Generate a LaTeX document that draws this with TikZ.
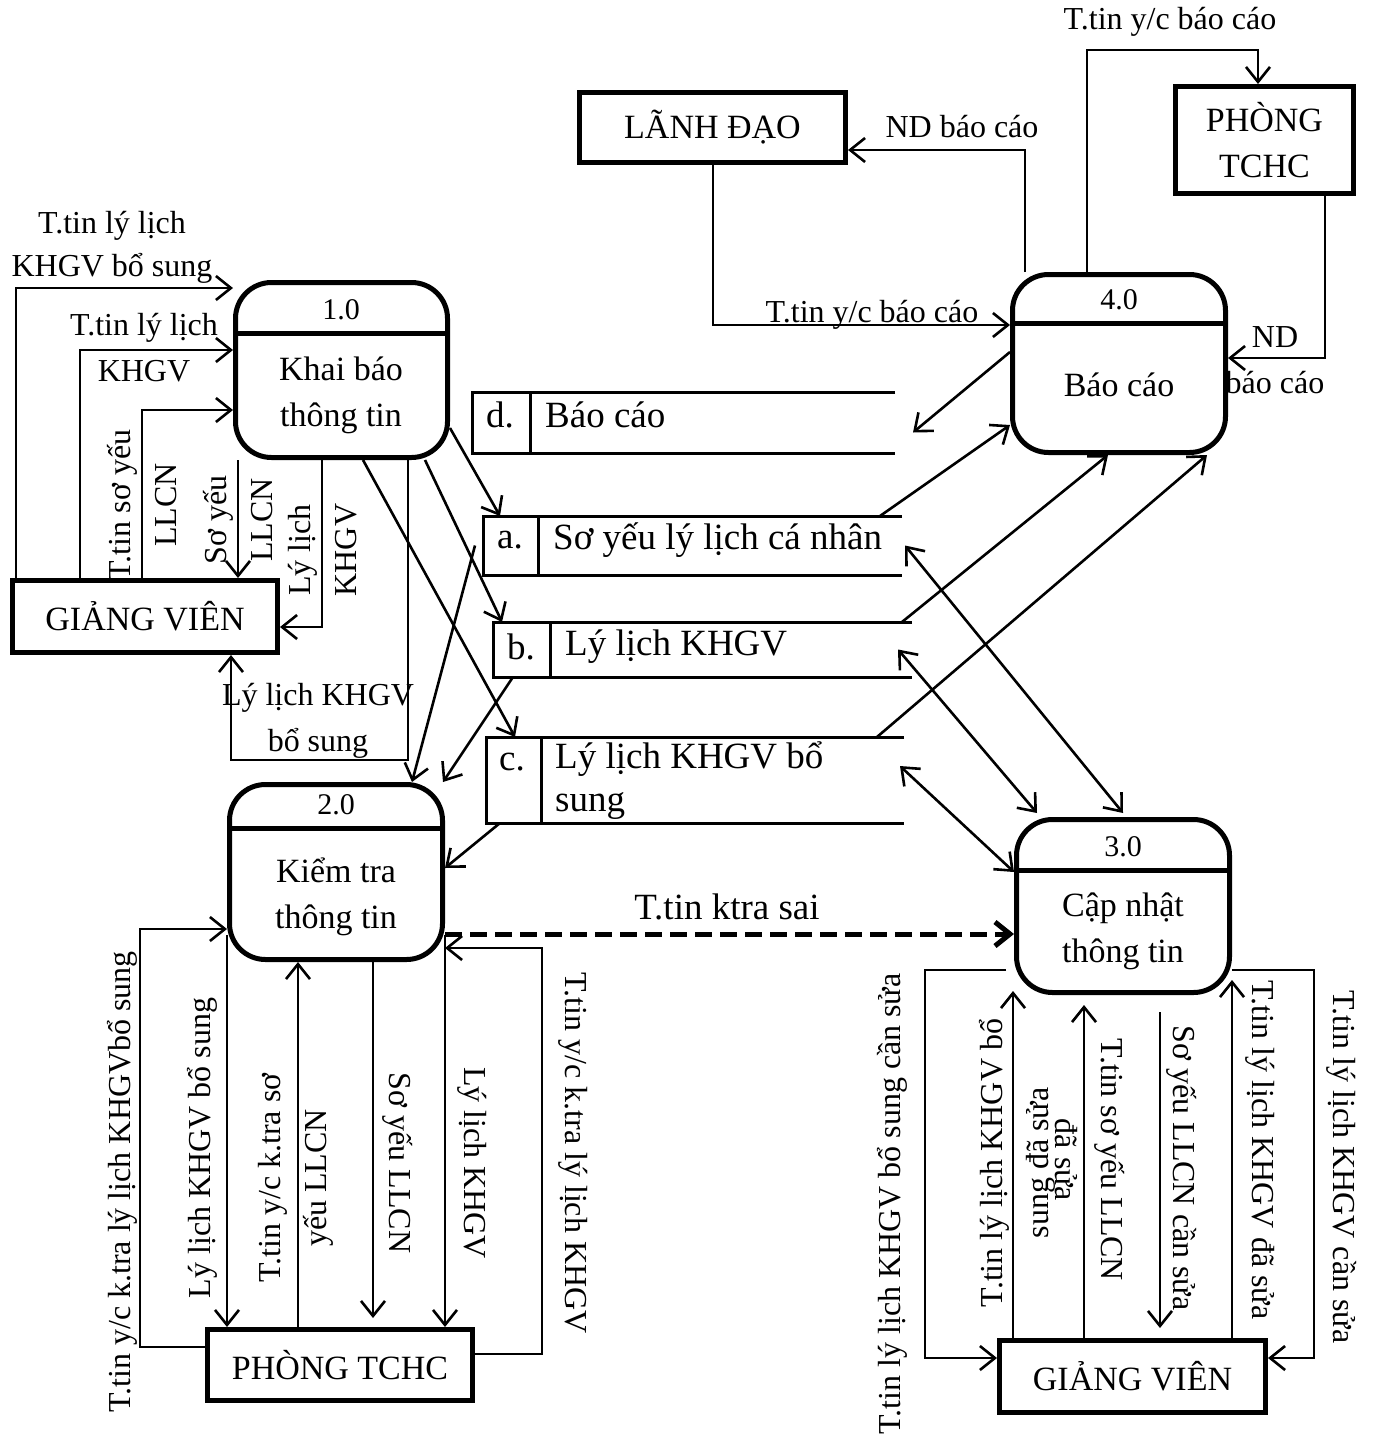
\documentclass[tikz,border=0pt]{standalone}
\usepackage{fontspec}
\setmainfont{Liberation Serif}
\usetikzlibrary{arrows.meta,calc}
\begin{document}
\begin{tikzpicture}[x=1pt,y=-1pt,
  tip/.tip={Straight Barb[length=15pt,width=24pt]},
  flow/.style={line width=2.6pt,-tip},
  biflow/.style={line width=2.6pt,tip-tip},
  proc/.style={draw,line width=5pt,rounded corners=36pt,inner sep=0pt},
  entity/.style={draw,line width=5pt,inner sep=0pt,font=\fontsize{34}{46}\selectfont,align=center},
  ptext/.style={font=\fontsize{34}{46}\selectfont,align=center,inner sep=0pt},
  pnum/.style={font=\fontsize{30}{36}\selectfont,inner sep=0pt},
  lbl/.style={font=\fontsize{32}{46}\selectfont,align=center,inner sep=0pt},
  stxt/.style={font=\fontsize{37}{43}\selectfont,inner sep=0pt,align=left},
  storebox/.style={inner sep=0pt,outer sep=0pt},
  storeline/.style={line width=3pt},
]
\fill[white] (0,0) rectangle (1373,1438);
\useasboundingbox (0,0) rectangle (1373,1438);

% ---------- processes ----------
\node[proc,minimum width=212pt,minimum height=175pt] (p1) at (341.5,370) {};
\draw[line width=5pt] (p1.west |- 0,333) -- (p1.east |- 0,333);
\node[pnum] at (341,310) {1.0};
\node[ptext] at (341,395) {Khai báo\\thông tin};

\node[proc,minimum width=213pt,minimum height=175pt] (p2) at (336,872) {};
\draw[line width=5pt] (p2.west |- 0,828) -- (p2.east |- 0,828);
\node[pnum] at (336,805) {2.0};
\node[ptext] at (336,897) {Kiểm tra\\thông tin};

\node[proc,minimum width=213pt,minimum height=173pt] (p3) at (1123,906) {};
\draw[line width=5pt] (p3.west |- 0,870) -- (p3.east |- 0,870);
\node[pnum] at (1123,847) {3.0};
\node[ptext] at (1123,931) {Cập nhật\\thông tin};

\node[proc,minimum width=213pt,minimum height=178pt] (p4) at (1119,363.5) {};
\draw[line width=5pt] (p4.west |- 0,323) -- (p4.east |- 0,323);
\node[pnum] at (1119,300) {4.0};
\node[ptext] at (1119,385) {Báo cáo};

% ---------- external entities ----------
\node[entity,minimum width=265pt,minimum height=72pt] (gv1) at (145,616.5) {GIẢNG VIÊN};
\node[entity,minimum width=265pt,minimum height=71pt] (tc1) at (340,1365) {PHÒNG TCHC};
\node[entity,minimum width=266pt,minimum height=70pt] (ld) at (712.5,127.5) {LÃNH ĐẠO};
\node[entity,minimum width=178pt,minimum height=107pt] (tc2) at (1264.5,140) {PHÒNG\\TCHC};
\node[entity,minimum width=266pt,minimum height=72pt] (gv2) at (1132.5,1376.5) {GIẢNG VIÊN};

% ---------- data stores ----------
\node[storebox,minimum width=423pt,minimum height=61pt] (sd) at (683.5,422.5) {};
\node[storebox,minimum width=419pt,minimum height=59pt] (sa) at (692.5,545.5) {};
\node[storebox,minimum width=419pt,minimum height=55pt] (sb) at (702.5,649.5) {};
\node[storebox,minimum width=418pt,minimum height=86pt] (sc) at (695,780) {};
\foreach \s/\d in {sd/530,sa/538,sb/550,sc/541}{
  \draw[storeline] (\s.north east) -- (\s.north west) -- (\s.south west) -- (\s.south east);
  \draw[storeline] (\s.north -| \d,0) -- (\s.south -| \d,0);
}
\node[stxt] at (500,415) {d.};
\node[stxt,anchor=west] at (545,415) {Báo cáo};
\node[stxt] at (510,540) {a.};
\node[stxt,anchor=west] at (553,540) {Sơ yếu lý lịch cá nhân};
\node[stxt] at (521,647) {b.};
\node[stxt,anchor=west] at (565,647) {Lý lịch KHGV};
\node[stxt] at (512,762) {c.};
\node[stxt,anchor=west] at (555,781) {Lý lịch KHGV bổ\\sung};

% ---------- flows around 1.0 ----------
\draw[flow] (gv1.north -| 16,0) |- (p1.west |- 0,288);
\node[lbl,font=\fontsize{32}{43}\selectfont] at (112,247) {T.tin lý lịch\\KHGV bổ sung};
\draw[flow] (gv1.north -| 80,0) |- (p1.west |- 0,350);
\node[lbl] at (144,348) {T.tin lý lịch\\KHGV};
\draw[flow] (gv1.north -| 142,0) |- (p1.west |- 0,410);
\node[lbl,rotate=90] at (142,505) {T.tin sơ yếu\\LLCN};
\draw[flow] (p1.south -| 238,0) -- (gv1.north -| 238,0);
\node[lbl,rotate=90] at (238,520) {Sơ yếu\\LLCN};
\draw[flow] (p1.south -| 322,0) |- (gv1.east |- 0,627);
\node[lbl,rotate=90] at (323,550) {Lý lịch\\KHGV};
\draw[flow] (p1.south -| 408,0) |- (231,760) -- (gv1.south -| 231,0);
\node[lbl] at (318,721) {Lý lịch KHGV\\bổ sung};

% 1.0 to stores
\draw[flow] (p1.east |- 0,428) -- (sa.north -| 500,0);
\draw[flow] (p1.south -| 425,0) -- (sb.north -| 502,0);
\draw[flow] (p1.south -| 363,0) -- (sc.north -| 515,0);

% stores to 2.0
\draw[flow] ($(sa.west)+(-8,0)$) -- (p2.north -| 412,0);
\draw[flow] (sb.south -| 513,0) -- (p2.north -| 443,0);
\draw[flow] (sc.south -| 500,0) -- (p2.east |- 0,868);

% ---------- flows around 2.0 ----------
\draw[flow] (tc1.west |- 0,1347) -| (140,929) -- (p2.west |- 0,929);
\node[lbl,rotate=90] at (122,1182) {T.tin y/c k.tra lý lịch KHGVbổ sung};
\draw[flow] (p2.west |- 0,935) -- (p2.west |- tc1.north);
\node[lbl,rotate=90] at (202,1148) {Lý lịch KHGV bổ sung};
\draw[flow] (tc1.north -| 298,0) -- (p2.south -| 298,0);
\node[lbl,rotate=90] at (296,1178) {T.tin y/c k.tra sơ\\yếu LLCN};
\draw[flow] (p2.south -| 373,0) -- ($(tc1.north -| 373,0)+(0,-9)$);
\node[lbl,rotate=-90] at (398,1163) {Sơ yếu LLCN};
\draw[flow] (p2.east |- 0,935) -- (p2.east |- tc1.north);
\node[lbl,rotate=-90] at (472,1163) {Lý lịch KHGV};
\draw[flow] (tc1.east |- 0,1354) -| (542,948) -- (p2.east |- 0,948);
\node[lbl,rotate=-90] at (573,1153) {T.tin y/c k.tra lý lịch KHGV};

% 2.0 to 3.0
\draw[line width=5pt,dash pattern=on 17pt off 8pt,-tip] (p2.east |- 0,934) -- (p3.west |- 0,934);
\node[lbl,font=\fontsize{37}{44}\selectfont] at (727,907) {T.tin ktra sai};

% ---------- flows around 3.0 ----------
\draw[flow] ($(p3.west |- 0,970)+(-8,0)$) -| (925,1358) -- (gv2.west |- 0,1358);
\node[lbl,rotate=90] at (892,1204) {T.tin lý lịch KHGV bổ sung cần sửa};
\draw[flow] (gv2.north -| 1013,0) -- ($(p3.south -| 1013,0)+(0,-4)$);
\node[lbl,rotate=90] at (1017,1163) {T.tin lý lịch KHGV bổ\\sung đã sửa};
\draw[flow] (gv2.north -| 1084,0) -- ($(p3.south -| 1084,0)+(0,10)$);
\node[lbl,rotate=-90] at (1090,1160) {T.tin sơ yếu LLCN\\đã sửa};
\draw[flow] ($(p3.south -| 1160,0)+(0,17)$) -- ($(gv2.north -| 1160,0)+(0,-10)$);
\node[lbl,rotate=-90] at (1182,1168) {Sơ yếu LLCN cần sửa};
\draw[flow] (p3.east |- gv2.north) -- (p3.east |- 0,980);
\node[lbl,rotate=-90] at (1260,1150) {T.tin lý lịch KHGV đã sửa};
\draw[flow] (p3.east |- 0,970) -| (1314,1358) -- (gv2.east |- 0,1358);
\node[lbl,rotate=-90] at (1342,1167) {T.tin lý lịch KHGV cần sửa};

% stores and 3.0 / 4.0
\draw[flow] (p4.west |- 0,352) -- ($(sd.east)+(18,10)$);
\draw[flow] (sa.north -| 880,0) -- (p4.west |- 0,425);
\draw[flow] (sb.north -| 902,0) -- (p4.south -| 1108,0);
\draw[flow] (sc.north -| 877,0) -- (p4.south -| 1207,0);
\draw[biflow] ($(sa.east)+(3,0)$) -- ($(p3.north)+(0,-4)$);
\draw[biflow] ($(sb.east)+(-14,0)$) -- ($(p3.north -| 1037,0)+(0,-4)$);
\draw[biflow] ($(sc.east)+(-4,-14)$) -- (p3.west |- 0,872);

% ---------- flows around 4.0 ----------
\draw[flow] (p4.north -| 1025,0) |- (ld.east |- 0,150);
\node[lbl] at (962,127) {ND báo cáo};
\draw[flow] (ld.south -| 713,0) |- (p4.west |- 0,325);
\node[lbl] at (872,315) {T.tin y/c báo cáo};
\draw[flow] (p4.north -| 1087,0) |- (1258,50) -- (tc2.north -| 1258,0);
\node[lbl] at (1170,22) {T.tin y/c báo cáo};
\draw[flow] (tc2.south -| 1325,0) |- (p4.east |- 0,358);
\node[lbl] at (1275,360) {ND\\báo cáo};
\end{tikzpicture}
\end{document}
